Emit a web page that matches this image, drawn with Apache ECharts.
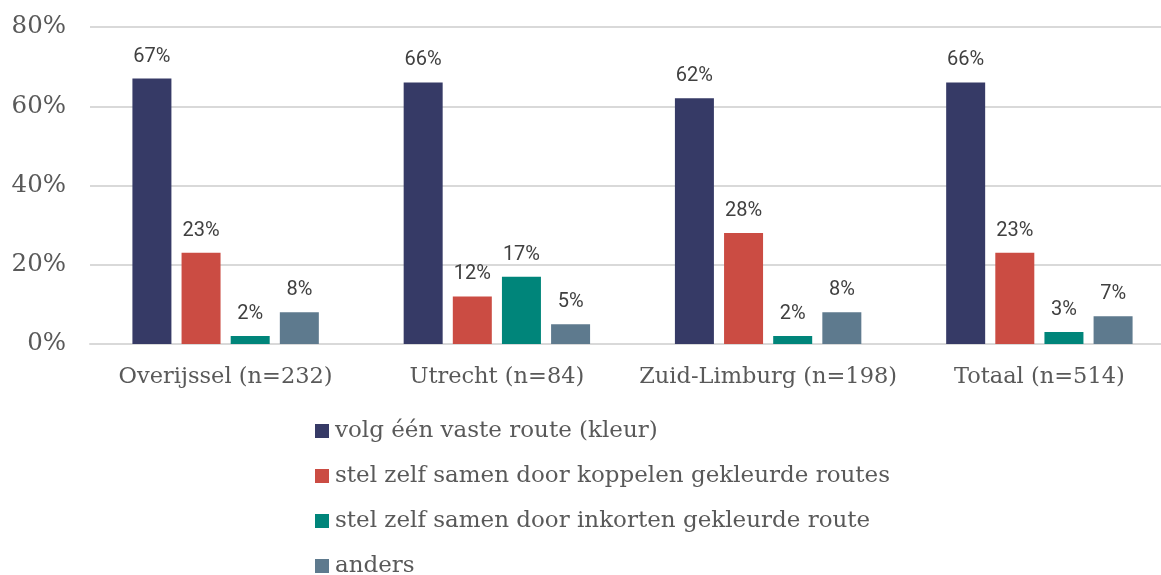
<!DOCTYPE html>
<html><head><meta charset="utf-8">
<script src="https://cdn.jsdelivr.net/npm/echarts@6/dist/echarts.min.js"></script>
<style>html,body{margin:0;padding:0;background:#fff}#c{width:1161px;height:575px}</style>
</head><body><div id="c"></div>
<script>
const categories = ['Overijssel (n=232)', 'Utrecht (n=84)', 'Zuid-Limburg (n=198)', 'Totaal (n=514)'];
const seriesNames = ['volg één vaste route (kleur)', 'stel zelf samen door koppelen gekleurde routes', 'stel zelf samen door inkorten gekleurde route', 'anders'];
const vasteRoute = [67, 66, 62, 66];
const koppelen = [23, 12, 28, 23];
const inkorten = [2, 17, 2, 3];
const anders = [8, 5, 8, 7];
const colors = ['#363A66', '#CB4C43', '#00857A', '#5E7A8E'];
const values = [vasteRoute, koppelen, inkorten, anders];

const chart = echarts.init(document.getElementById('c'));
chart.setOption({
  animation: false,
  grid: { left: 90, width: 1085, top: 27, height: 317, containLabel: false, outerBoundsMode: 'none' },
  xAxis: {
    type: 'category', data: categories,
    axisLine: { lineStyle: { color: '#D9D9D9', width: 2 } },
    axisTick: { show: false },
    axisLabel: { interval: 0, fontFamily: 'DejaVu Serif', fontSize: 22.5, color: '#595959', margin: 22 }
  },
  yAxis: {
    type: 'value', min: 0, max: 80, interval: 20,
    axisLabel: { formatter: '{value}%', fontFamily: 'DejaVu Serif', fontSize: 24.5, color: '#595959', margin: 24, align: 'right' },
    splitLine: { lineStyle: { color: '#D9D9D9', width: 2 } },
    axisLine: { show: false }, axisTick: { show: false }
  },
  legend: {
    orient: 'vertical', left: 315, top: 418, height: 220, padding: 0,
    itemWidth: 14, itemHeight: 14, itemGap: 19,
    icon: 'rect',
    textStyle: { fontFamily: 'DejaVu Serif', fontSize: 23, color: '#595959', lineHeight: 26, padding: [0,0,0,1] },
    data: seriesNames
  },
  series: seriesNames.map((n, i) => ({
    name: n, type: 'bar', data: values[i],
    barWidth: 39, barGap: '26%',
    itemStyle: { color: colors[i] },
    label: { show: true, position: 'top', distance: 12, formatter: '{c}%', fontFamily: 'Roboto', fontSize: 20, color: '#404040' }
  }))
});
</script></body></html>
